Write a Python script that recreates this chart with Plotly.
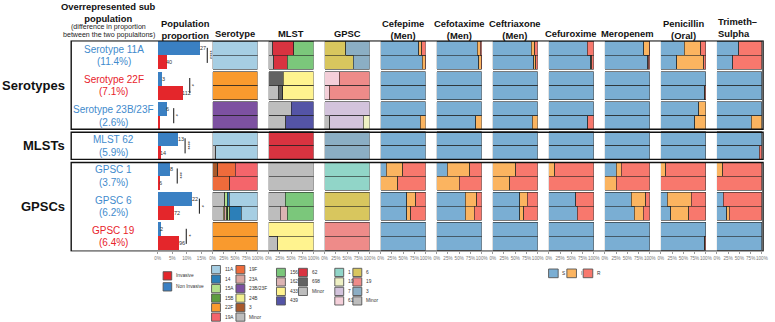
import plotly.graph_objects as go

W, H = 775, 322

# ---------------- data ----------------
groups = ["Serotypes", "MLSTs", "GPSCs"]
group_centers = [1, 3, 5]
subpops = ["Serotype 11A", "Serotype 22F", "Serotype 23B/23F", "MLST 62", "GPSC 1", "GPSC 6", "GPSC 19"]
diff_labels = ["(11.4%)", "(7.1%)", "(2.6%)", "(5.9%)", "(3.7%)", "(6.2%)", "(6.4%)"]
overrep_in = ["Non Invasive", "Invasive", "Non Invasive", "Non Invasive", "Non Invasive", "Non Invasive", "Invasive"]
pop_noninvasive = [14.6, 1.6, 3.1, 7.0, 4.3, 11.9, 1.0]
pop_invasive = [3.1, 8.6, 0.4, 1.1, 0.5, 5.6, 7.4]
n_noninvasive = [27, 3, 6, 13, 8, 22, 2]
n_invasive = [40, 112, 5, 14, 6, 72, 96]
signif = ["****", "*", "*", "****", "***", "*", "*"]
pop_ticks = [0, 5, 10, 15]
pop_ticklabels = ["0%", "5%", "10%", "15%"]
fill_ticks = [0, 25, 50, 75, 100]
fill_ticklabels = ["0%", "25%", "50%", "75%", "100%"]

# bars in each panel, top to bottom: (11A NI, 11A Inv, 22F NI, 22F Inv, 23B NI, 23B Inv,
#  MLST62 NI, MLST62 Inv, GPSC1 NI, GPSC1 Inv, GPSC6 NI, GPSC6 Inv, GPSC19 NI, GPSC19 Inv)
sero_stack = ["Minor", "3", "24B", "23B/23F", "23A", "22F", "19F", "19A", "15B", "15A", "14", "11A"]
sero_legend = ["11A", "14", "15A", "15B", "22F", "19A", "19F", "23A", "23B/23F", "24B", "3", "Minor"]
sero_values = {
    "11A":     [100, 100, 0, 0, 0, 0, 100, 93, 0, 0, 63, 36, 0, 0],
    "14":      [0, 0, 0, 0, 0, 0, 0, 0, 0, 0, 4, 26, 0, 0],
    "15A":     [0, 0, 0, 0, 0, 0, 0, 0, 0, 0, 6, 4, 0, 0],
    "15B":     [0, 0, 0, 0, 0, 0, 0, 0, 0, 0, 0, 3, 0, 0],
    "19A":     [0, 0, 0, 0, 0, 0, 0, 0, 50, 62, 0, 0, 0, 0],
    "19F":     [0, 0, 0, 0, 0, 0, 0, 0, 38, 38, 0, 0, 0, 0],
    "22F":     [0, 0, 100, 100, 0, 0, 0, 0, 0, 0, 0, 0, 100, 100],
    "23A":     [0, 0, 0, 0, 0, 0, 0, 0, 0, 0, 0, 5, 0, 0],
    "23B/23F": [0, 0, 0, 0, 100, 100, 0, 0, 0, 0, 0, 0, 0, 0],
    "24B":     [0, 0, 0, 0, 0, 0, 0, 0, 0, 0, 0, 2, 0, 0],
    "3":       [0, 0, 0, 0, 0, 0, 0, 0, 12, 0, 0, 0, 0, 0],
    "Minor":   [0, 0, 0, 0, 0, 0, 0, 7, 0, 0, 27, 24, 0, 0],
}
mlst_stack = ["Minor", "698", "62", "439", "433", "162", "156"]
mlst_legend = ["156", "162", "433", "439", "62", "698", "Minor"]
mlst_values = {
    "156":   [44, 58, 0, 0, 0, 0, 0, 0, 0, 0, 63, 58, 0, 0],
    "162":   [0, 0, 0, 0, 0, 0, 0, 0, 0, 0, 0, 16, 0, 0],
    "433":   [0, 0, 67, 68, 0, 0, 0, 0, 0, 0, 0, 0, 100, 80],
    "439":   [0, 0, 0, 0, 50, 62, 0, 0, 0, 0, 0, 0, 0, 0],
    "62":    [47, 31, 0, 0, 0, 0, 100, 100, 0, 0, 0, 0, 0, 0],
    "698":   [0, 0, 33, 10, 0, 0, 0, 0, 0, 0, 0, 0, 0, 0],
    "Minor": [9, 11, 0, 22, 50, 38, 0, 0, 100, 100, 37, 26, 0, 20],
}
gpsc_stack = ["Minor", "61", "7", "6", "3", "19", "10", "1"]
gpsc_legend = ["1", "10", "7", "61", "6", "19", "3", "Minor"]
gpsc_values = {
    "1":     [0, 0, 0, 0, 0, 0, 0, 0, 100, 100, 0, 0, 0, 0],
    "10":    [0, 0, 0, 0, 0, 14, 0, 0, 0, 0, 0, 0, 0, 0],
    "7":     [0, 0, 0, 0, 100, 75, 0, 0, 0, 0, 0, 0, 0, 0],
    "61":    [0, 0, 33, 10, 0, 0, 0, 0, 0, 0, 0, 0, 0, 0],
    "6":     [47, 64, 0, 0, 0, 0, 0, 0, 0, 0, 100, 100, 0, 0],
    "19":    [0, 0, 67, 90, 0, 0, 0, 0, 0, 0, 0, 0, 100, 100],
    "3":     [53, 36, 0, 0, 0, 0, 100, 100, 0, 0, 0, 0, 0, 0],
    "Minor": [0, 0, 0, 0, 0, 11, 0, 0, 0, 0, 0, 0, 0, 0],
}
sir_levels = ["S", "I", "R"]
cefepime = {
    "S": [85, 93, 100, 100, 100, 88, 100, 100, 12, 0, 58, 58, 100, 100],
    "I": [6, 6, 0, 0, 0, 12, 0, 0, 37, 38, 20, 9, 0, 0],
    "R": [9, 1, 0, 0, 0, 0, 0, 0, 51, 62, 22, 33, 0, 0],
}
cefotaxime = {
    "S": [90, 94, 100, 100, 100, 87, 100, 100, 24, 0, 63, 63, 100, 100],
    "I": [7, 5, 0, 0, 0, 13, 0, 0, 50, 50, 26, 21, 0, 0],
    "R": [3, 1, 0, 0, 0, 0, 0, 0, 26, 50, 11, 16, 0, 0],
}
ceftriaxone = {
    "S": [86, 91, 100, 100, 100, 88, 100, 100, 0, 0, 60, 60, 100, 100],
    "I": [7, 5, 0, 0, 0, 12, 0, 0, 51, 38, 17, 9, 0, 0],
    "R": [7, 4, 0, 0, 0, 0, 0, 0, 49, 62, 23, 31, 0, 0],
}
cefuroxime = {
    "S": [85, 93, 100, 100, 100, 87, 100, 100, 0, 0, 60, 63, 100, 100],
    "I": [0, 2, 0, 0, 0, 0, 0, 0, 13, 0, 0, 0, 0, 0],
    "R": [15, 5, 0, 0, 0, 13, 0, 0, 87, 100, 40, 37, 0, 0],
}
meropenem = {
    "S": [87, 95, 100, 100, 100, 100, 100, 100, 25, 0, 59, 65, 100, 100],
    "I": [12, 2, 0, 0, 0, 0, 0, 0, 12, 25, 32, 20, 0, 0],
    "R": [1, 3, 0, 0, 0, 0, 0, 0, 63, 75, 9, 15, 0, 0],
}
penicillin = {
    "S": [52, 35, 100, 97, 84, 75, 100, 100, 0, 0, 14, 22, 100, 97],
    "I": [37, 60, 0, 1, 16, 25, 0, 0, 11, 0, 54, 40, 0, 1],
    "R": [11, 5, 0, 2, 0, 0, 0, 0, 89, 100, 32, 38, 0, 2],
}
trimeth = {
    "S": [48, 35, 100, 100, 100, 76, 100, 94, 0, 0, 14, 22, 100, 100],
    "I": [0, 0, 0, 0, 0, 24, 0, 0, 13, 0, 0, 5, 0, 0],
    "R": [52, 65, 0, 0, 0, 0, 0, 6, 87, 100, 86, 73, 0, 0],
}

# ---------------- styles ----------------
FONT = "Liberation Sans, Arial, sans-serif"
NI_BLUE = "#3a80c3"
INV_RED = "#e4262b"
LABEL_COL = {"Non Invasive": "#3f8bcd", "Invasive": "#e8232b"}
sero_colors = {"11A": "#a6cee3", "14": "#2c7fb8", "15A": "#b2df8a", "15B": "#5d9c3f",
               "19A": "#f4656b", "19F": "#ee6b3b", "22F": "#f99a2e", "23A": "#dba8a2",
               "23B/23F": "#7d51a1", "24B": "#f2f08f", "3": "#a9592a", "Minor": "#bdbdbd"}
mlst_colors = {"156": "#7bc77b", "162": "#dcb4b3", "433": "#fff38f", "439": "#5454a6",
               "62": "#d83340", "698": "#626262", "Minor": "#bdbdbd"}
gpsc_colors = {"1": "#91d5c8", "10": "#eef0c4", "7": "#d3c3dc", "61": "#f4cfd9",
               "6": "#d8c65e", "19": "#ee8b89", "3": "#8baec4", "Minor": "#bdbdbd"}
sir_colors = {"S": "#7aaed3", "I": "#fbb460", "R": "#f8786d"}


def px_x(x):
    return x / W


def px_y(y):
    return 1 - y / H


BAR_OFF, BAR_W = 0.232, 0.464
Y_TOP_PX, Y_BOT_PX = 40.3, 251.4
POP_X0, POP_PPU, POP_X1 = 156.5, 2.95, 211.0
PANEL_X0, PANEL_STEP, PANEL_W = 212.0, 56.7, 45.5

n = len(subpops)
ni_y = [i - BAR_OFF for i in range(n)]
inv_y = [i + BAR_OFF for i in range(n)]
bar_y = []
for i in range(n):
    bar_y += [i - BAR_OFF, i + BAR_OFF]

fig = go.Figure()
annotations = []
shapes = []


def ann(text, x, y, size, color="#111", xanchor="center", xref="paper", yref="paper", **kw):
    annotations.append(dict(text=text, x=x, y=y, xref=xref, yref=yref, showarrow=False,
                            xanchor=xanchor, yanchor="middle", borderpad=0,
                            font=dict(family=FONT, size=size, color=color), **kw))


# ---------------- population proportion panel ----------------
fig.add_trace(go.Bar(x=pop_noninvasive, y=ni_y, orientation="h", width=BAR_W,
                     marker=dict(color=NI_BLUE, line=dict(width=0)),
                     xaxis="x", yaxis="y", hoverinfo="skip"))
fig.add_trace(go.Bar(x=pop_invasive, y=inv_y, orientation="h", width=BAR_W,
                     marker=dict(color=INV_RED, line=dict(width=0)),
                     xaxis="x", yaxis="y", hoverinfo="skip"))
for i in range(n):
    ann(str(n_noninvasive[i]), pop_noninvasive[i] - 0.5, ni_y[i], 5.5, "#333",
        xanchor="left", xref="x", yref="y")
    ann(str(n_invasive[i]), pop_invasive[i] - 0.5, inv_y[i], 5.5, "#333",
        xanchor="left", xref="x", yref="y")
    bx = max(pop_noninvasive[i], pop_invasive[i]) + 2.4
    shapes.append(dict(type="line", xref="x", yref="y", x0=bx, x1=bx,
                       y0=i - 0.25, y1=i + 0.25, line=dict(color="#111", width=1)))
    ann(signif[i], bx + 0.9, i, 5.5, "#111", xref="x", yref="y", textangle=90)

layout_axes = {}
layout_axes["xaxis"] = dict(domain=[px_x(POP_X0), px_x(POP_X1)], anchor="y",
                            range=[0, (POP_X1 - POP_X0) / POP_PPU],
                            tickvals=pop_ticks, ticktext=pop_ticklabels, tickangle=0,
                            ticks="outside", ticklen=2, tickwidth=0.6, tickcolor="#999",
                            tickfont=dict(family=FONT, size=4.6, color="#777"),
                            showgrid=False, zeroline=False, showline=False, fixedrange=True)

# ---------------- stacked panels ----------------
panels = [
    (["Serotype"], sero_stack, sero_values, sero_colors),
    (["MLST"], mlst_stack, mlst_values, mlst_colors),
    (["GPSC"], gpsc_stack, gpsc_values, gpsc_colors),
    (["Cefepime", "(Men)"], sir_levels, cefepime, sir_colors),
    (["Cefotaxime", "(Men)"], sir_levels, cefotaxime, sir_colors),
    (["Ceftriaxone", "(Men)"], sir_levels, ceftriaxone, sir_colors),
    (["Cefuroxime"], sir_levels, cefuroxime, sir_colors),
    (["Meropenem"], sir_levels, meropenem, sir_colors),
    (["Penicillin", "(Oral)"], sir_levels, penicillin, sir_colors),
    (["Trimeth\u2013", "Sulpha"], sir_levels, trimeth, sir_colors),
]

TITLE_SIZE = 9.4
for k, (title, levels, values, colors) in enumerate(panels):
    ax = "x%d" % (k + 2)
    x0 = PANEL_X0 + PANEL_STEP * k
    x1 = x0 + PANEL_W
    layout_axes["xaxis%d" % (k + 2)] = dict(
        domain=[px_x(x0), px_x(x1)], anchor="y", range=[0, 100],
        tickvals=fill_ticks, ticktext=fill_ticklabels, tickangle=0,
        ticks="outside", ticklen=2, tickwidth=0.6, tickcolor="#999",
        tickfont=dict(family=FONT, size=4.6, color="#777"),
        showgrid=False, zeroline=False, showline=False, fixedrange=True)
    for lev in levels:
        vals = [v if v > 0 else None for v in values[lev]]
        fig.add_trace(go.Bar(x=vals, y=bar_y, orientation="h", width=BAR_W,
                             marker=dict(color=colors[lev], line=dict(color="#222", width=0.6)),
                             xaxis=ax, yaxis="y", hoverinfo="skip"))
    cx = (x0 + x1) / 2
    text = "<br>".join("<b>%s</b>" % t for t in title)
    if title[0].startswith("Trimeth"):
        ann(text, px_x(x0), px_y(28.0), TITLE_SIZE, xanchor="left", align="left")
    elif len(title) == 2:
        ann(text, px_x(cx), px_y(29.5), TITLE_SIZE)
    else:
        ann(text, px_x(cx), px_y(33.6), TITLE_SIZE)

# ---------------- titles ----------------
ann("<b>Overrepresented sub</b><br><b>population</b>", px_x(107), px_y(12.4), 9.4)
ann("(difference in proportion", px_x(107), px_y(26.8), 7.1, "#222")
ann("between the two populaitons)", px_x(107), px_y(35.0), 7.1, "#222")
ann("<b>Population</b><br><b>proportion</b>", px_x((POP_X0 + POP_X1) / 2 + 0.5), px_y(29.5),
    TITLE_SIZE)

# ---------------- row labels ----------------
for g, c in zip(groups, group_centers):
    ann("<b>%s</b>" % g, px_x(64), c, 13, "#111", xanchor="right", yref="y")
for i in range(n):
    col = LABEL_COL[overrep_in[i]]
    ann(subpops[i], px_x(112), i - 0.2, 10, col, yref="y")
    ann(diff_labels[i], px_x(112), i + 0.21, 10, col, yref="y")

# ---------------- boxes around groups ----------------
box_spans = [(-0.48, 2.45), (2.55, 3.45), (3.55, 6.49)]
for y0, y1 in box_spans:
    shapes.append(dict(type="rect", xref="paper", yref="y", x0=px_x(69), x1=px_x(769),
                       y0=y0, y1=y1, line=dict(color="#111", width=1.4),
                       fillcolor="rgba(0,0,0,0)", layer="above"))


# ---------------- legends ----------------
def legend_block(items, colors, x_key, y_top, nrows, col_dx, row_dy, kw=9.0, kh=8.2):
    for idx, it in enumerate(items):
        c, r = divmod(idx, nrows)
        kx = x_key + c * col_dx
        ky = y_top + r * row_dy
        shapes.append(dict(type="rect", xref="paper", yref="paper",
                           x0=px_x(kx), x1=px_x(kx + kw), y0=px_y(ky + kh), y1=px_y(ky),
                           fillcolor=colors[it], line=dict(color="#555", width=0.9)))
        ann(it, px_x(kx + kw + 3.5), px_y(ky + kh / 2), 4.8, "#333", xanchor="left")


legend_block(["Invasive", "Non Invasive"], {"Invasive": INV_RED, "Non Invasive": NI_BLUE},
             162, 271.7, 2, 0, 11.0, kw=8.7, kh=8.3)
legend_block(sero_legend, sero_colors, 211, 265.5, 6, 24.7, 9.5)
legend_block(mlst_legend, mlst_colors, 276.7, 268.3, 4, 22.3, 9.5)
legend_block(gpsc_legend, gpsc_colors, 335.7, 268.3, 4, 18.3, 9.5)
for j, lev in enumerate(sir_levels):
    kx = [552, 570.5, 587][j]
    shapes.append(dict(type="rect", xref="paper", yref="paper",
                       x0=px_x(kx), x1=px_x(kx + 9.7), y0=px_y(277.7), y1=px_y(269),
                       fillcolor=sir_colors[lev], line=dict(color="#555", width=0.9)))
    ann(lev, px_x(kx + 13), px_y(273.4), 4.8, "#333", xanchor="left")

fig.update_layout(
    width=W, height=H, margin=dict(l=0, r=0, t=0, b=0),
    paper_bgcolor="white", plot_bgcolor="white",
    barmode="stack", showlegend=False,
    yaxis=dict(domain=[px_y(Y_BOT_PX), px_y(Y_TOP_PX)], range=[6.5, -0.5], anchor="x",
               visible=False, fixedrange=True),
    annotations=annotations, shapes=shapes,
    **layout_axes,
)

fig.write_html("out.html", config={"displayModeBar": False},
               post_script="document.body.style.margin='0';document.body.style.overflow='hidden';")
